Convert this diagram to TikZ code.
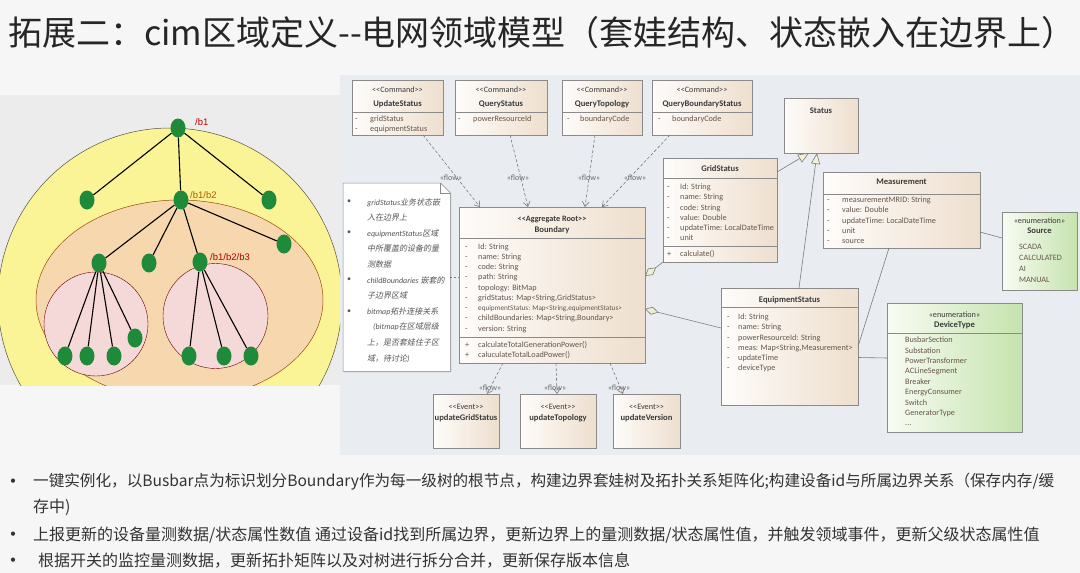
\documentclass[tikz,border=0pt]{standalone}
\usepackage{fontspec}
\setmainfont{Carlito}
\newfontfamily\cjk{Noto Sans CJK SC}
\newfontfamily\cjksl[FakeSlant=0.2]{Noto Sans CJK SC}
\newfontfamily\arialf{Liberation Sans}
\usetikzlibrary{arrows.meta,shadows,shapes.geometric}
\definecolor{pagebg}{HTML}{F6F6F6}
\definecolor{umlbg}{HTML}{E9EDF2}
\definecolor{clsL}{HTML}{FEFCFA}
\definecolor{clsR}{HTML}{EEDFCE}
\definecolor{enmL}{HTML}{F8FCF3}
\definecolor{enmR}{HTML}{C6E3AE}
\definecolor{bordc}{HTML}{8A8A8A}
\definecolor{hdc}{HTML}{3A3A3A}
\definecolor{attrc}{HTML}{65564A}
\definecolor{linec}{HTML}{7A7A7A}
\definecolor{flowc}{HTML}{666666}
\definecolor{triF}{HTML}{F6F1D6}
\definecolor{diaF}{HTML}{EEF0CC}
\definecolor{gnodec}{HTML}{1E8A3A}
\definecolor{yelF}{HTML}{FAF496}
\definecolor{orgF}{HTML}{F6D7AE}
\definecolor{pinkF}{HTML}{F5D9D9}
\definecolor{titlec}{HTML}{262626}
\definecolor{bodyc}{HTML}{333333}
\definecolor{notec}{HTML}{555555}
\newcommand\dd[1][13pt]{\makebox[#1][l]{-}}
\newcommand\pp[1][13pt]{\makebox[#1][l]{+}}
\begin{document}
\begin{tikzpicture}[x=1pt,y=-1pt,
  cls/.style={draw=bordc, line width=0.6pt, left color=clsL, right color=clsR,
    drop shadow={shadow xshift=1.2pt,shadow yshift=-1.2pt,opacity=0.3},
    anchor=north west, inner sep=0, outer sep=0},
  enm/.style={cls, left color=enmL, right color=enmR},
  hd/.style={anchor=base, inner sep=0, font=\fontsize{8.6}{10}\selectfont\bfseries, text=hdc},
  stt/.style={anchor=base, inner sep=0, font=\fontsize{8.2}{10}\selectfont, text=hdc},
  attrs/.style={anchor=north west, inner sep=0, align=left, font=\fontsize{8.2}{10.25}\selectfont, text=attrc},
  divl/.style={draw=bordc, line width=0.5pt},
  flowline/.style={draw=linec, dash pattern=on 3pt off 2pt, line width=0.6pt, -{Straight Barb[length=5pt,width=7pt]}},
  flowlab/.style={font=\fontsize{8}{9}\selectfont, text=flowc, inner sep=0},
  gen/.style={draw=linec, line width=0.6pt, -{Triangle[length=11pt,width=9pt,fill=triF]}},
  agg/.style={draw=linec, line width=0.6pt, {Diamond[length=14pt,width=8pt,fill=diaF]}-},
  assoc/.style={draw=linec, line width=0.6pt},
  gnode/.style={ellipse, fill=gnodec, minimum width=15pt, minimum height=19pt, inner sep=0},
  tedge/.style={draw=black, line width=1.1pt},
  tlab/.style={anchor=west, inner sep=0, font=\arialf\fontsize{9.5}{11}\selectfont},
  body/.style={anchor=west, inner sep=0, font=\cjk\fontsize{16}{20}\selectfont, text=bodyc},
  bul/.style={anchor=center, inner sep=0, font=\fontsize{12}{14}\selectfont, text=bodyc},
  notel/.style={anchor=north west, inner sep=0, align=left, font=\fontsize{8}{15.6}\selectfont, text=notec},
  nbul/.style={anchor=center, inner sep=0, font=\fontsize{8}{10}\selectfont, text=notec},
]
\useasboundingbox (0,0) rectangle (1080,573);
\fill[pagebg] (0,0) rectangle (1080,573);
\fill[umlbg] (340,75) rectangle (1080,455);

% ---------- title ----------
\node[anchor=west, inner sep=0, font=\cjk\fontsize{34}{36}\selectfont, text=titlec] (title) at (8,33)
  {拓展二：cim区域定义-{}-电网领域模型（套娃结构、状态嵌入在边界上）};

% ---------- left nested tree ----------
\begin{scope}
\clip (0,95) rectangle (340,385);
\fill[pagebg!96!black] (0,95) rectangle (340,385);
\draw[fill=yelF, draw=black!60!yellow!60!black, line width=0.5pt] (170,300) ellipse [x radius=172pt, y radius=172pt];
\draw[fill=orgF, draw=orange!60!black, line width=0.5pt] (179.5,300) ellipse [x radius=143.5pt, y radius=100pt];
\draw[fill=pinkF, draw=red!40!black, line width=0.4pt] (96,324) circle [radius=52pt];
\draw[fill=pinkF, draw=red!40!black, line width=0.4pt] (215.5,316) circle [radius=52.5pt];
\end{scope}

\node[gnode] (n0) at (178,128) {};
\node[gnode] (n1a) at (87,200) {};
\node[gnode] (n1b) at (181,200) {};
\node[gnode] (n1c) at (269,200) {};
\node[gnode] (n2a) at (99,263) {};
\node[gnode] (n2b) at (149,263) {};
\node[gnode] (n2c) at (200,262) {};
\node[gnode] (n2d) at (284,244) {};
\node[gnode] (l1) at (65,356) {};
\node[gnode] (l2) at (87,356) {};
\node[gnode] (l3) at (114,356) {};
\node[gnode] (l4) at (135,338) {};
\node[gnode] (l5) at (189,356) {};
\node[gnode] (l6) at (224,356) {};
\node[gnode] (l7) at (251,356) {};
\foreach \a/\b in {n0/n1a,n0/n1b,n0/n1c,n1b/n2a,n1b/n2b,n1b/n2c,n1b/n2d,n2a/l1,n2a/l2,n2a/l3,n2a/l4,n2c/l5,n2c/l6,n2c/l7}
  \draw[tedge] (\a) -- (\b);
\node[tlab, text=red!75!black] (lb1) at (195,122) {/b1};
\node[tlab, text=orange!70!black] (lb2) at (190,195) {/b1/b2};
\node[tlab, text=red!70!black] (lb3) at (210,257) {/b1/b2/b3};

% ---------- command boxes ----------
\node[cls, minimum width=91pt, minimum height=55pt] (upd) at (352,80) {};
\node[cls, minimum width=92pt, minimum height=55pt] (qs) at (455,80) {};
\node[cls, minimum width=80pt, minimum height=55pt] (qt) at (562,80) {};
\node[cls, minimum width=100pt, minimum height=55pt] (qbs) at (652,80) {};
\foreach \b in {upd,qs,qt,qbs}
  \draw[divl] ([yshift=-32pt]\b.north west) -- ([yshift=-32pt]\b.north east);
\node[stt] (upds) at (397.5,92.5) {<{}<Command>{}>};
\node[hd] (updn) at (397.5,106) {UpdateStatus};
\node[attrs] (upda) at (355,113.8) {\strut\dd[15pt]gridStatus\\\dd[15pt]equipmentStatus};
\node[stt] (qss) at (501,92.5) {<{}<Command>{}>};
\node[hd] (qsn) at (501,106) {QueryStatus};
\node[attrs] (qsa) at (458,113.8) {\strut\dd[15pt]powerResourceId};
\node[stt] (qts) at (602,92.5) {<{}<Command>{}>};
\node[hd] (qtn) at (602,106) {QueryTopology};
\node[attrs] (qta) at (567,113.8) {\strut\dd[13pt]boundaryCode};
\node[stt] (qbss) at (702,92.5) {<{}<Command>{}>};
\node[hd] (qbsn) at (702,106) {QueryBoundaryStatus};
\node[attrs] (qbsa) at (658,113.8) {\strut\dd[14pt]boundaryCode};

% ---------- Status ----------
\node[cls, minimum width=74pt, minimum height=55pt] (st) at (784,98) {};
\node[hd] (stn) at (821,113) {Status};

% ---------- GridStatus ----------
\node[cls, minimum width=114pt, minimum height=104pt] (gs) at (663,158) {};
\draw[divl] ([yshift=-20pt]gs.north west) -- ([yshift=-20pt]gs.north east);
\draw[divl] ([yshift=-88pt]gs.north west) -- ([yshift=-88pt]gs.north east);
\node[hd] (gsn) at (720,171.5) {GridStatus};
\node[attrs] (gsa) at (667,182.3) {\strut\dd Id: String\\\dd name: String\\\dd code: String\\\dd value: Double\\\dd updateTime: LocalDateTime\\\dd unit};
\node[attrs] (gsm) at (667,249.3) {\strut\pp calculate()};

% ---------- Boundary ----------
\node[cls, minimum width=186pt, minimum height=156pt] (bd) at (459,207) {};
\draw[divl] ([yshift=-31pt]bd.north west) -- ([yshift=-31pt]bd.north east);
\draw[divl] ([yshift=-130pt]bd.north west) -- ([yshift=-130pt]bd.north east);
\node[stt, font=\fontsize{8.2}{10}\selectfont\bfseries] (bds) at (552,221) {<{}<Aggregate Root>{}>};
\node[hd] (bdn) at (552,232) {Boundary};
\node[attrs] (bda) at (465,241.8) {\strut\dd Id: String\\\dd name: String\\\dd code: String\\\dd path: String\\\dd topology: BitMap\\\dd gridStatus: Map<String,GridStatus>\\\dd{\fontsize{7.2}{10.25}\selectfont equipmentStatus: Map<String,equipmentStatus>}\\\dd childBoundaries: Map<String,Boundary>\\\dd version: String};
\node[attrs] (bdm) at (465,340.3) {\strut\pp calculateTotalGenerationPower()\\\pp caluculateTotalLoadPower()};

% ---------- Measurement ----------
\node[cls, minimum width=157pt, minimum height=76pt] (ms) at (823,172) {};
\draw[divl] ([yshift=-22pt]ms.north west) -- ([yshift=-22pt]ms.north east);
\node[hd] (msn) at (901.5,184.5) {Measurement};
\node[attrs] (msa) at (827,195.3) {\strut\dd[15pt]measurementMRID: String\\\dd[15pt]value: Double\\\dd[15pt]updateTime: LocalDateTime\\\dd[15pt]unit\\\dd[15pt]source};

% ---------- Source ----------
\node[enm, minimum width=75pt, minimum height=78pt] (src) at (1002,212) {};
\node[stt] (srcs) at (1039.5,223.5) {«enumeration»};
\node[hd] (srcn) at (1039.5,233.5) {Source};
\node[attrs, font=\fontsize{8.2}{10.7}\selectfont] (srca) at (1019,242.3) {\strut SCADA\\CALCULATED\\AI\\MANUAL};

% ---------- EquipmentStatus ----------
\node[cls, minimum width=137pt, minimum height=117pt] (eq) at (721,288) {};
\draw[divl] ([yshift=-19pt]eq.north west) -- ([yshift=-19pt]eq.north east);
\node[hd] (eqn) at (789.5,302.5) {EquipmentStatus};
\node[attrs] (eqa) at (727,312.3) {\strut\dd[11pt]Id: String\\\dd[11pt]name: String\\\dd[11pt]powerResourceId: String\\\dd[11pt]meas: Map<String,Measurement>\\\dd[11pt]updateTime\\\dd[11pt]deviceType};

% ---------- DeviceType ----------
\node[enm, minimum width=135pt, minimum height=129pt] (dt) at (887,303) {};
\draw[divl] ([yshift=-30pt]dt.north west) -- ([yshift=-30pt]dt.north east);
\node[stt] (dts) at (954.5,317.5) {«enumeration»};
\node[hd] (dtn) at (954.5,327.5) {DeviceType};
\node[attrs, font=\fontsize{8.2}{10.4}\selectfont] (dta) at (905,335.3) {\strut BusbarSection\\Substation\\PowerTransformer\\ACLineSegment\\Breaker\\EnergyConsumer\\Switch\\GeneratorType\\...};

% ---------- Events ----------
\node[cls, minimum width=66pt, minimum height=54pt] (ev1) at (433,394) {};
\node[cls, minimum width=76pt, minimum height=54pt] (ev2) at (520,394) {};
\node[cls, minimum width=67pt, minimum height=54pt] (ev3) at (613,394) {};
\node[stt] (ev1s) at (466,409.5) {<{}<Event>{}>};
\node[hd] (ev1n) at (466,420) {updateGridStatus};
\node[stt] (ev2s) at (558,409.5) {<{}<Event>{}>};
\node[hd] (ev2n) at (558,420) {updateTopology};
\node[stt] (ev3s) at (646.5,409.5) {<{}<Event>{}>};
\node[hd] (ev3n) at (646.5,420) {updateVersion};

% ---------- Note ----------
\node[minimum width=107pt, minimum height=188pt, anchor=north west, inner sep=0] (note) at (343,183) {};
\filldraw[fill=white, draw=bordc, line width=0.5pt, drop shadow={shadow xshift=1pt,shadow yshift=-1pt,opacity=0.25}]
  (note.north west) -- ([xshift=-10pt]note.north east) -- ([yshift=-10pt]note.north east) -- (note.south east) -- (note.south west) -- cycle;
\draw[draw=bordc, line width=0.5pt] ([xshift=-10pt]note.north east) -- ([xshift=-10pt,yshift=-10pt]note.north east) -- ([yshift=-10pt]note.north east);
\node[nbul] (nb1) at (349,202) {•};
\node[nbul] (nb2) at (349,233) {•};
\node[nbul] (nb3) at (349,280) {•};
\node[nbul] (nb4) at (349,312) {•};
\node[notel] (notet) at (367,194) {\strut\textit{gridStatus}{\cjksl 业务状态嵌}\\{\cjksl 入在边界上}\\\textit{equipmentStatus}{\cjksl 区域}\\{\cjksl 中所覆盖的设备的量}\\{\cjksl 测数据}\\\textit{childBoundaries} {\cjksl 嵌套的}\\{\cjksl 子边界区域}\\\textit{bitmap}{\cjksl 拓扑连接关系}\\\hspace*{6pt}\textit{(bitmap}{\cjksl 在区域层级}\\{\cjksl 上，是否套娃住子区}\\{\cjksl 域，待讨论}\textit{)}};
\draw[linec, dash pattern=on 2pt off 2pt, line width=0.5pt] (note.east) -- (note.east -| bd.west);

% ---------- flows ----------
\draw[flowline] ([xshift=25.5pt]upd.south) -- ([xshift=-72pt]bd.north);
\draw[flowline] ([xshift=9pt]qs.south) -- ([xshift=-24pt]bd.north);
\draw[flowline] ([xshift=-7pt]qt.south) -- ([xshift=33pt]bd.north);
\draw[flowline] ([xshift=-32pt]qbs.south) -- ([xshift=50pt]bd.north);
\node[flowlab] (f1) at (451,178) {«flow»};
\node[flowlab] (f2) at (518,178) {«flow»};
\node[flowlab] (f3) at (589,178) {«flow»};
\node[flowlab] (f4) at (635,178) {«flow»};
\draw[flowline] ([xshift=-49pt]bd.south) -- ([xshift=21pt]ev1.north);
\draw[flowline] ([xshift=4pt]bd.south) -- ([xshift=-1pt]ev2.north);
\draw[flowline] ([xshift=58pt]bd.south) -- ([xshift=-23.5pt]ev3.north);
\node[flowlab] (f5) at (490,388) {«flow»};
\node[flowlab] (f6) at (555,388) {«flow»};
\node[flowlab] (f7) at (619,388) {«flow»};

% ---------- relations ----------
\draw[gen] ([yshift=-14pt]gs.north east) -- ([xshift=-12pt]st.south);
\draw[gen] ([xshift=9.5pt]eq.north) -- ([xshift=-4pt]st.south);
\draw[agg] ([yshift=9pt]bd.east) -- (gs.south west);
\draw[agg] ([yshift=-24pt]bd.east) -- ([yshift=18.5pt]eq.west);
\draw[assoc] ([yshift=-22pt]ms.east) -- ([yshift=13pt]src.west);
\draw[assoc] ([xshift=-12.5pt]ms.south) -- (eq.east);
\draw[assoc] ([yshift=-11pt]eq.east) -- ([yshift=9.5pt]dt.west);

% ---------- bottom text ----------
\node[bul] (b1) at (13,482) {•};
\node[body, font=\cjk\fontsize{15.6}{20}\selectfont] (t1) at (33,482) {一键实例化，以Busbar点为标识划分Boundary作为每一级树的根节点，构建边界套娃树及拓扑关系矩阵化;构建设备id与所属边界关系（保存内存/缓};
\node[body] (t2) at (33,507) {存中)};
\node[bul] (b2) at (13,535) {•};
\node[body] (t3) at (33,535) {上报更新的设备量测数据/状态属性数值 通过设备id找到所属边界，更新边界上的量测数据/状态属性值，并触发领域事件，更新父级状态属性值};
\node[bul] (b3) at (13,561) {•};
\node[body] (t4) at (38,561) {根据开关的监控量测数据，更新拓扑矩阵以及对树进行拆分合并，更新保存版本信息};
\end{tikzpicture}
\end{document}
